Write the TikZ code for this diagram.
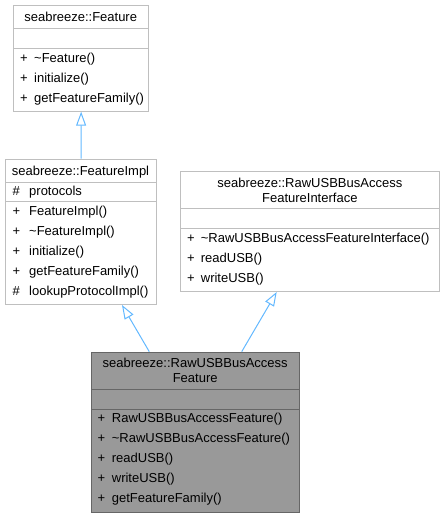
\documentclass[tikz,border=0pt]{standalone}
\usepackage{fontspec}
\setmainfont{Liberation Sans}
\usetikzlibrary{arrows.meta,calc}
\definecolor{boxline}{HTML}{BFBFBF}
\definecolor{curline}{HTML}{666666}
\definecolor{curfill}{HTML}{999999}
\definecolor{edgeblue}{HTML}{63B8FF}
\tikzset{
  classbox/.style={rectangle, draw=boxline, line width=1pt, anchor=north west, inner sep=0pt},
  curbox/.style={classbox, draw=curline, fill=curfill},
  sepline/.style={draw=boxline, line width=1pt},
  cursep/.style={draw=curline, line width=1pt},
  inherit/.style={draw=edgeblue, line width=1pt, -{Triangle[open, length=14pt, width=10pt]}},
}
\newcommand{\mem}[2]{\makebox[#1][l]{#2}}
\begin{document}
\begin{tikzpicture}[x=1pt, y=-1pt, font=\fontsize{13}{15}\selectfont]
  \useasboundingbox (0,0) rectangle (445,517);
  % class boxes
  \node[classbox, minimum width=134.7pt, minimum height=105.4pt] (feature) at (13.3,5.3) {};
  \node[classbox, minimum width=151pt, minimum height=145.3pt] (impl) at (5,158.7) {};
  \node[classbox, minimum width=259pt, minimum height=119.7pt] (iface) at (180.3,171.3) {};
  \node[curbox, minimum width=208.3pt, minimum height=160.3pt] (raw) at (91,351.7) {};
  % compartments
  \path[sepline] (13.3,28.7) -- (148,28.7);
  \path[sepline] (13.3,48.7) -- (148,48.7);
  \path[sepline] (5,182.3) -- (156,182.3);
  \path[sepline] (5,201.7) -- (156,201.7);
  \path[sepline] (180.3,208.7) -- (439.3,208.7);
  \path[sepline] (180.3,228.7) -- (439.3,228.7);
  \path[cursep] (91,389.3) -- (299.3,389.3);
  \path[cursep] (91,409) -- (299.3,409);
  % titles
  \begin{scope}[every node/.style={anchor=base, inner sep=0pt}]
    \node (feature-t) at (80.7,21.5) {seabreeze::Feature};
    \node (impl-t) at (80.5,175.2) {seabreeze::FeatureImpl};
    \node (iface-t1) at (309.8,187.2) {seabreeze::RawUSBBusAccess};
    \node (iface-t2) at (309.8,202.2) {FeatureInterface};
    \node (raw-t1) at (195.2,367.8) {seabreeze::RawUSBBusAccess};
    \node (raw-t2) at (195.2,382.8) {Feature};
  \end{scope}
  % members
  \begin{scope}[every node/.style={anchor=base west, inner sep=0pt}]
    \node (feature-m1) at (20,62.2) {\mem{14pt}{+}\textasciitilde Feature()};
    \node (feature-m2) at (20,82.2) {\mem{14pt}{+}initialize()};
    \node (feature-m3) at (20,102.2) {\mem{14pt}{+}getFeatureFamily()};
    \node (impl-a1) at (12.5,195.2) {\mem{16.5pt}{\#}protocols};
    \node (impl-m1) at (12.5,215.2) {\mem{16.5pt}{+}FeatureImpl()};
    \node (impl-m2) at (12.5,235.2) {\mem{16.5pt}{+}\textasciitilde FeatureImpl()};
    \node (impl-m3) at (12.5,255.2) {\mem{16.5pt}{+}initialize()};
    \node (impl-m4) at (12.5,275.2) {\mem{16.5pt}{+}getFeatureFamily()};
    \node (impl-m5) at (12.5,295.2) {\mem{16.5pt}{\#}lookupProtocolImpl()};
    \node (iface-m1) at (187,242.2) {\mem{13.7pt}{+}\textasciitilde RawUSBBusAccessFeatureInterface()};
    \node (iface-m2) at (187,262.2) {\mem{13.7pt}{+}readUSB()};
    \node (iface-m3) at (187,282.2) {\mem{13.7pt}{+}writeUSB()};
    \node (raw-m1) at (97.3,422.8) {\mem{14.4pt}{+}RawUSBBusAccessFeature()};
    \node (raw-m2) at (97.3,442.8) {\mem{14.4pt}{+}\textasciitilde RawUSBBusAccessFeature()};
    \node (raw-m3) at (97.3,462.8) {\mem{14.4pt}{+}readUSB()};
    \node (raw-m4) at (97.3,482.8) {\mem{14.4pt}{+}writeUSB()};
    \node (raw-m5) at (97.3,502.8) {\mem{14.4pt}{+}getFeatureFamily()};
  \end{scope}
  % inheritance
  \draw[inherit] (impl.north) -- (feature.south);
  \draw[inherit] ($(raw.north west)+(58.3,0)$) -- ($(impl.south west)+(117,0)$);
  \draw[inherit] ($(raw.north west)+(150.7,0)$) -- ($(iface.south west)+(96.4,0)$);
\end{tikzpicture}
\end{document}
